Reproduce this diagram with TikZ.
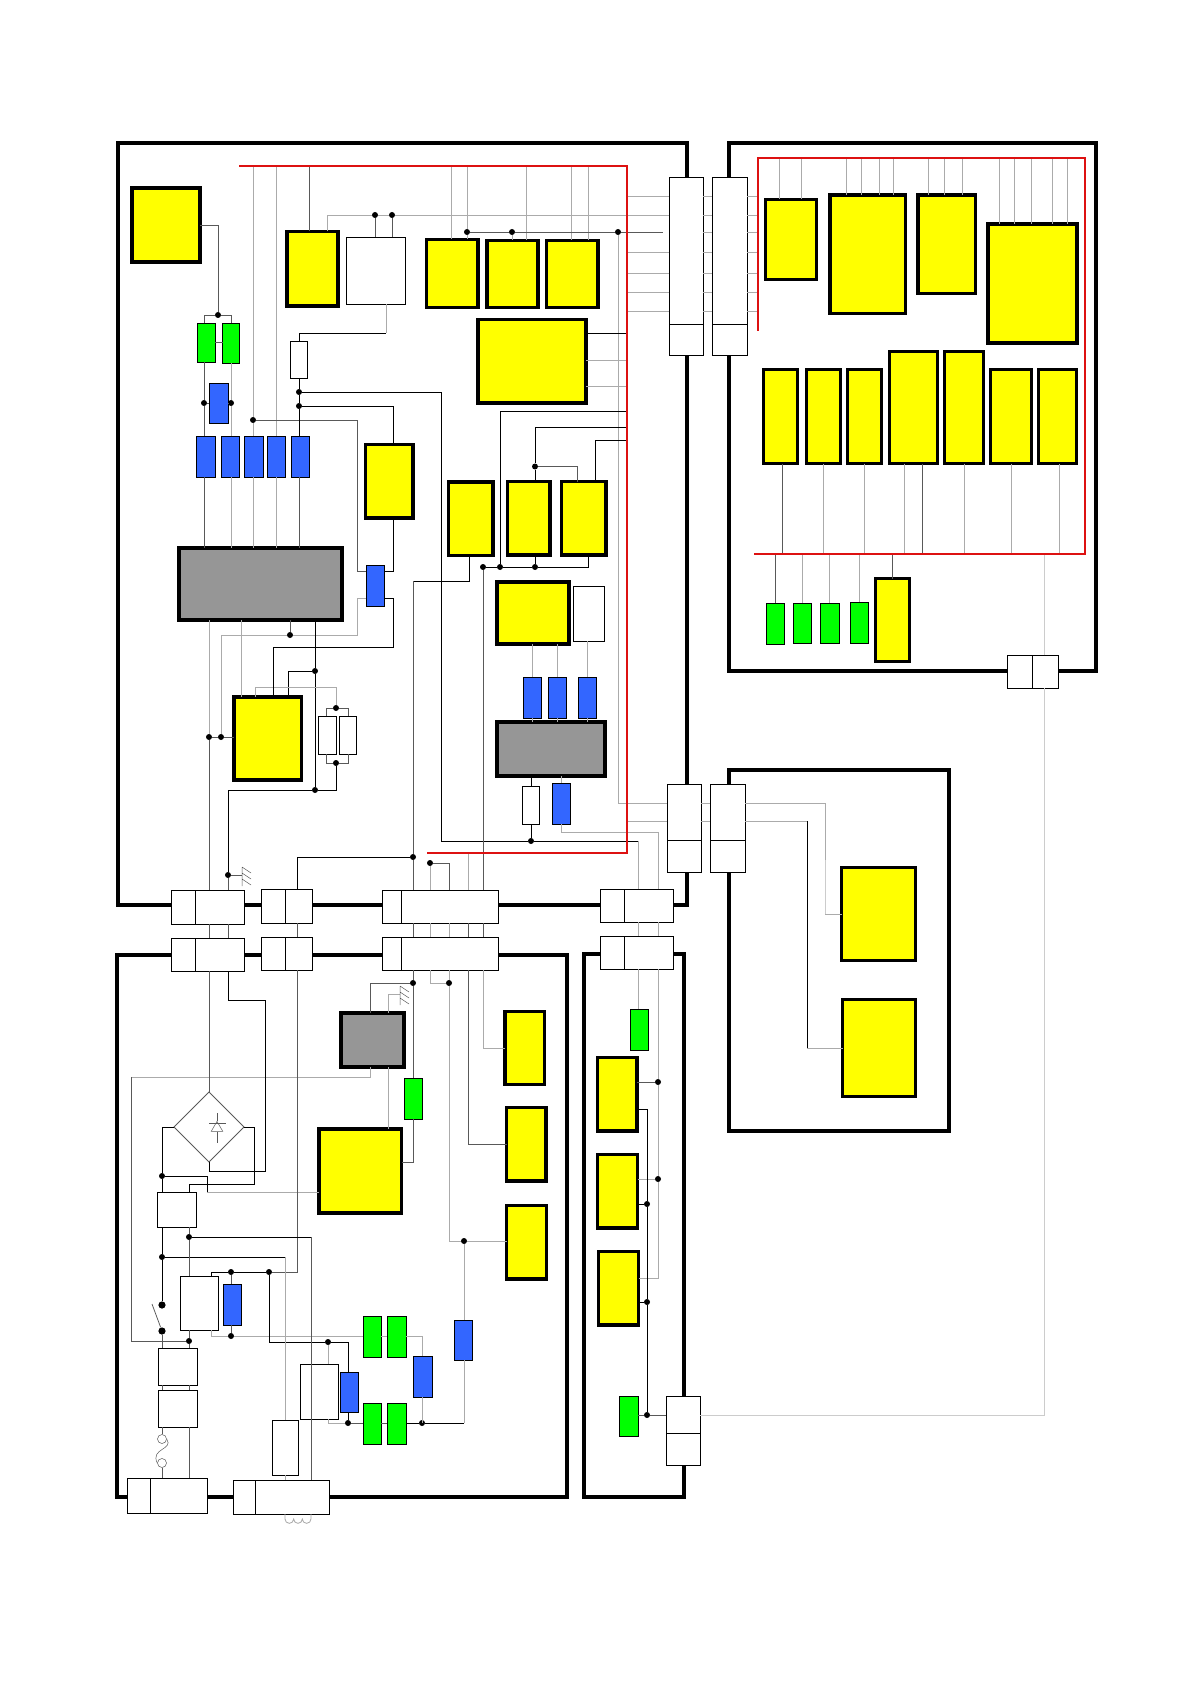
\documentclass[tikz,border=0pt]{standalone}
\usepackage{tikz}
\usetikzlibrary{calc,positioning,shapes.geometric}
\definecolor{ybox}{HTML}{FFFF00}
\definecolor{bbox}{HTML}{3366FF}
\definecolor{gbox}{HTML}{00FF00}
\definecolor{icgray}{HTML}{969696}
\definecolor{busred}{HTML}{DD1111}
\begin{document}
\begin{tikzpicture}[x=.5pt, y=-.5pt,
  bx/.style 2 args={minimum width=#1*.5pt, minimum height=#2*.5pt, inner sep=0pt, outer sep=0pt},
  frm/.style={draw, line width=2pt},
  yel/.style={draw, fill=ybox, line width=1.6pt},
  ic/.style={draw, fill=icgray, line width=1.9pt},
  blu/.style={draw, fill=bbox, line width=.42pt},
  grn/.style={draw, fill=gbox, line width=.42pt},
  wht/.style={draw, fill=white, line width=.42pt},
  dot/.style={circle, fill=black, inner sep=0pt, minimum size=3pt},
  bigdot/.style={circle, fill=black, inner sep=0pt, minimum size=3.6pt},
  bk/.style={line width=.38pt},
  dk/.style={line width=.38pt, black!65},
  gy/.style={line width=.42pt, black!33},
  lg/.style={line width=.5pt, black!20},
  bus/.style={line width=.9pt, busred},
  gnd/.pic={\draw[line width=.25pt, black!65] (0,-8) -- (0,11) (0,-8) -- (9,-2) (0,-2) -- (9,4) (0,4) -- (9,10);}]
\useasboundingbox (0,0) rectangle (1190,1684);
% frames
\node[frm, bx={569}{762}] (fmain) at (402.5,524) {};
\node[frm, bx={367}{528}] (fdisp) at (912.5,407) {};
\node[frm, bx={220}{361}] (fmot) at (839,950.5) {};
\node[frm, bx={450}{542}] (fpsu) at (342,1226) {};
\node[frm, bx={100}{543}] (fsub) at (634,1225.5) {};
% main board
\node[yel, bx={68}{74}] (y1) at (166,225) {};
\node[yel, bx={51}{74.5}] (y2) at (312.5,268.75) {};
\node[yel, bx={51.5}{68}] (y3) at (452.25,273.5) {};
\node[yel, bx={51}{67}] (y4) at (512.5,274) {};
\node[yel, bx={51.5}{67}] (y5) at (572.25,274) {};
\node[yel, bx={108}{83.5}] (y6) at (532,361.25) {};
\node[yel, bx={47.5}{73.5}] (y7) at (389.25,481.25) {};
\node[yel, bx={44.5}{73.5}] (y8) at (470.75,518.75) {};
\node[yel, bx={42.5}{73.5}] (y9) at (528.75,518.25) {};
\node[yel, bx={44.5}{73.5}] (y10) at (583.75,518.25) {};
\node[yel, bx={67.5}{83}] (y11) at (267.75,738.5) {};
\node[yel, bx={72}{62}, line width=2pt] (y12) at (533,613) {};
\node[ic, bx={163}{72}] (ic1) at (260.5,584) {};
\node[ic, bx={108}{54}] (ic2) at (551,749) {};
\node[grn, bx={18}{39}] (g1) at (206,342.5) {};
\node[grn, bx={17}{40}] (g2) at (231,343) {};
\node[blu, bx={19}{40}] (ba) at (218.5,403) {};
\node[blu, bx={19}{41}] (b1) at (205.5,456.5) {};
\node[blu, bx={18}{41}] (b2) at (230,456.5) {};
\node[blu, bx={19}{41}] (b3) at (253.5,456.5) {};
\node[blu, bx={18}{41}] (b4) at (276,456.5) {};
\node[blu, bx={18}{41}] (b5) at (300,456.5) {};
\node[blu, bx={18}{41}] (b6) at (375,585.5) {};
\node[blu, bx={18}{41}] (b7) at (532,697.5) {};
\node[blu, bx={18}{41}] (b8) at (557,697.5) {};
\node[blu, bx={18}{41}] (b9) at (587,697.5) {};
\node[blu, bx={18}{41}] (b10) at (561,803.5) {};
\node[wht, bx={59}{67}] (w1) at (375.5,270.5) {};
\node[wht, bx={31}{55}] (w2) at (588.5,613.5) {};
\node[wht, bx={17}{37}] (rs1) at (298.5,359.5) {};
\node[wht, bx={18}{38}] (rs2) at (327,735) {};
\node[wht, bx={17}{38}] (rs3) at (347.5,735) {};
\node[wht, bx={17}{38}] (rs4) at (530.5,805) {};
% display board
\node[yel, bx={51}{80}] (r1) at (791,239.5) {};
\node[yel, bx={75.5}{118.5}] (r2) at (867.75,254.25) {};
\node[yel, bx={57.5}{98.5}] (r3) at (946.75,244.25) {};
\node[yel, bx={89}{119}] (r4) at (1032.5,283.5) {};
\node[yel, bx={34}{94}] (r5) at (780.5,416.5) {};
\node[yel, bx={34}{94}] (r6) at (823.5,416.5) {};
\node[yel, bx={34}{94}] (r7) at (864.5,416.5) {};
\node[yel, bx={48}{112}] (r8) at (913.5,407.5) {};
\node[yel, bx={39}{112}] (r9) at (964,407.5) {};
\node[yel, bx={41}{94}] (r10) at (1011,416.5) {};
\node[yel, bx={38}{94}] (r11) at (1057.5,416.5) {};
\node[yel, bx={34}{83}] (r12) at (892.5,620) {};
\node[grn, bx={18}{41}] (g10) at (775,623.5) {};
\node[grn, bx={18}{40}] (g11) at (802,623) {};
\node[grn, bx={19}{40}] (g12) at (829.5,623) {};
\node[grn, bx={18}{41}] (g13) at (859,622.5) {};
% motor board
\node[yel, bx={74}{93}] (m1) at (878.5,914) {};
\node[yel, bx={73}{97}] (m2) at (879,1048) {};
% power board
\node[ic, bx={63}{54}] (ic3) at (372.5,1040) {};
\node[yel, bx={82.5}{84}] (y13) at (360.25,1171) {};
\node[yel, bx={39.5}{73}] (y14) at (524.75,1048) {};
\node[yel, bx={39.5}{73.5}] (y15) at (526.25,1144.25) {};
\node[yel, bx={40}{73.5}] (y16) at (526.5,1242.25) {};
\node[grn, bx={18}{41}] (g3) at (413,1098.5) {};
\node[grn, bx={18}{41}] (g4) at (372,1336.5) {};
\node[grn, bx={19}{41}] (g5) at (396.5,1336.5) {};
\node[grn, bx={18}{41}] (g6) at (372,1423.5) {};
\node[grn, bx={19}{41}] (g7) at (396.5,1423.5) {};
\node[blu, bx={18}{41}] (b11) at (232,1304.5) {};
\node[blu, bx={18}{40}] (b12) at (349,1392) {};
\node[blu, bx={19}{41}] (b13) at (422.5,1376.5) {};
\node[blu, bx={18}{40}] (b14) at (463,1340) {};
\node[wht, bx={39}{35}] (w3) at (176.5,1209.5) {};
\node[wht, bx={38}{54}] (w4) at (199,1303) {};
\node[wht, bx={39}{37}] (w5) at (177.5,1366.5) {};
\node[wht, bx={39}{37}] (w6) at (177.5,1408.5) {};
\node[wht, bx={38}{55}] (w7) at (319,1391.5) {};
\node[wht, bx={26}{55}] (rs5) at (285,1447.5) {};
\node[diamond, draw=black!65, line width=.38pt, bx={70}{70}] (br) at (209,1127) {};
% sub board
\node[yel, bx={39.5}{73.5}] (y17) at (617.25,1094.25) {};
\node[yel, bx={40}{73.5}] (y18) at (617.5,1191.25) {};
\node[yel, bx={40}{73.5}] (y19) at (618.5,1288.25) {};
\node[grn, bx={18}{41}] (g8) at (639,1029.5) {};
\node[grn, bx={19}{40}] (g9) at (628.5,1416) {};
% plugs
\node[wht, bx={34}{147}] (p1a) at (686,250.5) {};
\node[wht, bx={34}{31}, below=0pt of p1a] (p1b) {};
\node[wht, bx={35}{147}] (p2a) at (729.5,250.5) {};
\node[wht, bx={35}{31}, below=0pt of p2a] (p2b) {};
\node[wht, bx={34}{56}] (p3a) at (684,812) {};
\node[wht, bx={34}{32}, below=0pt of p3a] (p3b) {};
\node[wht, bx={35}{56}] (p4a) at (727.5,812) {};
\node[wht, bx={35}{32}, below=0pt of p4a] (p4b) {};
\node[wht, bx={24}{34}] (c1a) at (183,907) {};
\node[wht, bx={49}{34}, right=0pt of c1a] (c1b) {};
\node[wht, bx={24}{33}] (c1c) at (183,954.5) {};
\node[wht, bx={49}{33}, right=0pt of c1c] (c1d) {};
\node[wht, bx={24}{34}] (c2a) at (273,906) {};
\node[wht, bx={27}{34}, right=0pt of c2a] (c2b) {};
\node[wht, bx={24}{33}] (c2c) at (273,953.5) {};
\node[wht, bx={27}{33}, right=0pt of c2c] (c2d) {};
\node[wht, bx={19}{33}] (c3a) at (391.5,906.5) {};
\node[wht, bx={97}{33}, right=0pt of c3a] (c3b) {};
\node[wht, bx={19}{33}] (c3c) at (391.5,953.5) {};
\node[wht, bx={97}{33}, right=0pt of c3c] (c3d) {};
\node[wht, bx={24}{33}] (c4a) at (612,905.5) {};
\node[wht, bx={49}{33}, right=0pt of c4a] (c4b) {};
\node[wht, bx={24}{33}] (c4c) at (612,952.5) {};
\node[wht, bx={49}{33}, right=0pt of c4c] (c4d) {};
\node[wht, bx={23}{35}] (c5a) at (138.5,1495.5) {};
\node[wht, bx={57}{35}, right=0pt of c5a] (c5b) {};
\node[wht, bx={22}{34}] (c6a) at (244,1497) {};
\node[wht, bx={74}{34}, right=0pt of c6a] (c6b) {};
\node[wht, bx={34}{37}] (c7a) at (683,1414.5) {};
\node[wht, bx={34}{32}, below=0pt of c7a] (c7b) {};
\node[wht, bx={25}{33}] (c8a) at (1019.5,671.5) {};
\node[wht, bx={26}{33}, right=0pt of c8a] (c8b) {};
% buses
\coordinate (rA) at (239,166);
\coordinate (rB) at (627,166);
\coordinate (rC) at (627,853);
\coordinate (rD) at (427,853);
\coordinate (qA) at (758,331);
\coordinate (qB) at (758,158);
\coordinate (qC) at (1085,158);
\coordinate (qD) at (1085,554);
\coordinate (qE) at (754,554);
\coordinate (k1) at (638,841);
\coordinate (k2) at (658,832);
\coordinate (gr1) at (242,875);
\coordinate (gr2) at (400,994);
\coordinate (sw) at (152,1304);
% junctions
\node[dot] (d1) at (218,315) {};
\node[dot] (d2) at (204,403) {};
\node[dot] (d3) at (231,403) {};
\node[dot] (d4) at (253,420) {};
\node[dot] (d5) at (299,392) {};
\node[dot] (d6) at (299,406) {};
\node[dot] (d7) at (375,215) {};
\node[dot] (d8) at (392,215) {};
\node[dot] (d9) at (467,232) {};
\node[dot] (d10) at (512,232) {};
\node[dot] (d11) at (618,232) {};
\node[dot] (d12) at (535,466.5) {};
\node[dot] (d13) at (483,567) {};
\node[dot] (d14) at (500,567) {};
\node[dot] (d15) at (535,567) {};
\node[dot] (d16) at (290,635) {};
\node[dot] (d17) at (315,671) {};
\node[dot] (d18) at (315,790) {};
\node[dot] (d19) at (221,737) {};
\node[dot] (d20) at (209,737) {};
\node[dot] (d21) at (336,708) {};
\node[dot] (d22) at (336,763) {};
\node[dot] (d23) at (531,841) {};
\node[dot] (d24) at (413,857) {};
\node[dot] (d25) at (430,863) {};
\node[dot] (d26) at (228,875) {};
\node[dot] (d27) at (413,983) {};
\node[dot] (d28) at (449,983) {};
\node[dot] (d29) at (162,1176) {};
\node[dot] (d30) at (189,1237) {};
\node[dot] (d31) at (162,1257) {};
\node[dot] (d32) at (231,1272) {};
\node[dot] (d33) at (269,1272) {};
\node[bigdot] (d34) at (162,1305) {};
\node[bigdot] (d35) at (162,1331) {};
\node[dot] (d36) at (189,1341) {};
\node[dot] (d37) at (231,1336) {};
\node[dot] (d38) at (328,1342) {};
\node[dot] (d39) at (348,1423) {};
\node[dot] (d40) at (422,1423) {};
\node[dot] (d41) at (464,1241) {};
\node[dot] (d42) at (658,1082) {};
\node[dot] (d43) at (658,1179) {};
\node[dot] (d44) at (647,1204) {};
\node[dot] (d45) at (647,1302) {};
\node[dot] (d46) at (647,1415) {};
% main board wiring
\draw[dk] (y1.east) -| (d1);
\draw[dk] (g1.north -| d2) |- (d1) -| (g2.north -| d3);
\draw[dk] (g1.east) -- (g1.east -| g2.west);
\draw[dk] (g1.south -| d2) -- (d2) -- (b1.north -| d2);
\draw[dk] (b1.south -| d2) -- (ic1.north -| d2);
\draw[gy] (g2.south -| d3) -- (d3) -- (b2.north -| d3);
\draw[gy] (b2.south -| d3) -- (ic1.north -| d3);
\draw[dk] (d2) -- (ba) -- (d3);
\draw[gy] (rA -| d4) -- (d4) -- (b3.north -| d4);
\draw[gy] (b3.south -| d4) -- (ic1.north -| d4);
\draw[gy] (rA -| b4) -- (b4.north);
\draw[gy] (b4.south) -- (ic1.north -| b4);
\draw[dk] (d4) -| (357,571) -- (b6.west |- 357,571);
\draw[gy] (b6.west |- 0,598) -- (357,598) -- (357,635) -- (d16) -- (221,635) -- (d19);
\draw[dk] (ic1.south -| d16) -- (d16);
\draw[dk] (d20) -- (d19) -- (y11.west |- d19);
\draw[gy] (ic1.south -| d20) -- (d20);
\draw[dk] (d20) -- (c1b.north -| d20);
\draw[gy] (ic1.south -| 241,0) -- (y11.north -| 241,0);
\draw[bk] (ic1.south -| d17) -- (d17) -- (d18);
\draw[bk] (d17) -| (y11.north -| 288,0);
\draw[gy] (y11.north -| 255,0) |- (336,687) -- (d21);
\draw[dk] (rs2.north -| 326,0) |- (d21) -| (rs3.north -| 348,0);
\draw[dk] (rs2.south -| 326,0) |- (d22) -| (rs3.south -| 348,0);
\draw[bk] (d22) |- (d18) -| (d26);
\draw[dk] (d26) -- (c1b.north -| d26);
\draw[dk] (d26) -- (gr1);
\pic at (gr1) {gnd};
\draw[bk] (b6.east |- 0,571) -| (y7.south -| 393,0);
\draw[bk] (b6.east |- 0,598) -| (393,647) -| (y11.north -| 273,0);
\draw[bk] (rs1.south -| d5) -- (d5) -- (d6) -- (b5.north -| d6);
\draw[dk] (b5.south -| d6) -- (ic1.north -| d6);
\draw[bk] (d6) -| (y7.north -| 393,0);
\draw[bk] (d5) -| (441,841) -- (d23) -- (k1);
\draw[gy] (k1) -- (c4b.north -| k1);
\draw[bk] (rs1.north -| d5) |- (386,333);
\draw[gy] (386,333) -- (w1.south -| 386,0);
\draw[dk] (rA -| 309,0) -- (y2.north -| 309,0);
\draw[gy] (y2.north -| 327,0) |- (d7) -- (d8) -- (p1a.west |- d8);
\draw[dk] (d7) -- (w1.north -| d7);
\draw[dk] (d8) -- (w1.north -| d8);
\draw[gy] (rA -| 451,0) -- (y3.north -| 451,0);
\draw[gy] (rA -| d9) -- (d9) -- (y3.north -| d9);
\draw[gy] (rA -| 526,0) -- (y4.north -| 526,0);
\draw[gy] (rA -| 571,0) -- (y5.north -| 571,0);
\draw[gy] (rA -| 588,0) -- (y5.north -| 588,0);
\draw[dk] (d9) -- (d10) -- (d11) -- (663,232);
\draw[gy] (d10) -- (y4.north -| d10);
\draw[gy] (d11) |- (p3a.west |- 0,803);
\draw[gy] (p3a.east |- 0,803) -- (p4a.west |- 0,803);
\draw[gy] (rC |- 0,821) -- (p3a.west |- 0,821);
\draw[gy] (p3a.east |- 0,821) -- (p4a.west |- 0,821);
\draw[gy] (rC |- 0,196) -- (p1a.west |- 0,196);
\draw[gy] (rC |- 0,252) -- (p1a.west |- 0,252);
\draw[gy] (rC |- 0,273) -- (p1a.west |- 0,273);
\draw[gy] (rC |- 0,292) -- (p1a.west |- 0,292);
\draw[gy] (rC |- 0,311) -- (p1a.west |- 0,311);
\draw[gy] (p1a.east |- 0,196) -- (p2a.west |- 0,196) (p2a.east |- 0,196) -- (qA |- 0,196);
\draw[gy] (p1a.east |- 0,215) -- (p2a.west |- 0,215) (p2a.east |- 0,215) -- (qA |- 0,215);
\draw[gy] (p1a.east |- 0,232) -- (p2a.west |- 0,232) (p2a.east |- 0,232) -- (qA |- 0,232);
\draw[gy] (p1a.east |- 0,252) -- (p2a.west |- 0,252) (p2a.east |- 0,252) -- (qA |- 0,252);
\draw[gy] (p1a.east |- 0,273) -- (p2a.west |- 0,273) (p2a.east |- 0,273) -- (qA |- 0,273);
\draw[gy] (p1a.east |- 0,292) -- (p2a.west |- 0,292) (p2a.east |- 0,292) -- (qA |- 0,292);
\draw[gy] (p1a.east |- 0,311) -- (p2a.west |- 0,311) (p2a.east |- 0,311) -- (qA |- 0,311);
\draw[bk] (y6.east |- 0,333) -- (rC |- 0,333);
\draw[gy] (y6.east |- 0,360) -- (rC |- 0,360);
\draw[gy] (y6.east |- 0,386) -- (rC |- 0,386);
\draw[bk] (rC |- 0,411) -| (d14);
\draw[bk] (rC |- 0,427) -| (d12);
\draw[bk] (d12) -- (y9.north -| d12);
\draw[dk] (d12) -| (y10.north -| 577,0);
\draw[bk] (rC |- 0,440) -| (y10.north -| 595,0);
\draw[bk] (y8.south -| 469,0) |- (413,581);
\draw[dk] (413,581) -- (d24) -- (c3b.north -| d24);
\draw[bk] (d24) -| (c2b.north -| 297,0);
\draw[dk] (c3b.north -| d13) -- (d13);
\draw[bk] (d13) -- (d14) -- (d15) -| (y10.south -| 588,0);
\draw[bk] (d15) -- (y9.south -| d15);
\draw[gy] (y12.south -| b7) -- (b7.north);
\draw[gy] (y12.south -| b8) -- (b8.north);
\draw[gy] (w2.south -| b9) -- (b9.north);
\draw[gy] (b7.south) -- (ic2.north -| b7);
\draw[gy] (b8.south) -- (ic2.north -| b8);
\draw[gy] (b9.south) -- (ic2.north -| b9);
\draw[bk] (ic2.south -| d23) -- (rs4.north -| d23);
\draw[bk] (rs4.south -| d23) -- (d23);
\draw[gy] (ic2.south -| b10) -- (b10.north);
\draw[gy] (b10.south) |- (k2) -- (c4b.north -| k2);
\draw[gy] (c3b.north -| d25) -- (d25);
\draw[dk] (d25) -| (c3b.north -| 449,0);
\draw[gy] (rD -| 468,0) -- (c3b.north -| 468,0);
% between the plugs
\draw[dk] (c1b.south -| d20) -- (c1d.north -| d20);
\draw[dk] (c1b.south -| d26) -- (c1d.north -| d26);
\draw[dk] (c2b.south -| 297,0) -- (c2d.north -| 297,0);
\draw[dk] (c3b.south -| d24) -- (c3d.north -| d24);
\draw[gy] (c3b.south -| d25) -- (c3d.north -| d25);
\draw[gy] (c3b.south -| 449,0) -- (c3d.north -| 449,0);
\draw[dk] (c3b.south -| 468,0) -- (c3d.north -| 468,0);
\draw[dk] (c3b.south -| d13) -- (c3d.north -| d13);
\draw[gy] (c4b.south -| k1) -- (c4d.north -| k1);
\draw[gy] (c4b.south -| k2) -- (c4d.north -| k2);
% motor board wiring
\draw[gy] (p4a.east |- 0,803) -| (825,860);
\draw[lg] (825,860) -- (825,914);
\draw[gy] (825,914) -- (m1.west);
\draw[gy] (p4a.east |- 0,821) -- (807,821);
\draw[bk] (807,821) -- (807,1048);
\draw[gy] (807,1048) -- (m2.west);
% power board wiring
\draw[dk] (c3d.south -| d27) -- (d27) -- (g3.north -| d27);
\draw[dk] (d27) -| (ic3.north -| 370,0);
\draw[gy] (ic3.north -| 388,0) |- (gr2);
\pic at (gr2) {gnd};
\draw[gy] (y13.north -| 388,0) -- (ic3.south -| 388,0);
\draw[gy] (ic3.south -| 370,0) |- (131,1077);
\draw[dk] (131,1077) |- (d36);
\draw[dk] (g3.south -| d27) |- (y13.east |- 0,1162);
\draw[gy] (c3d.south -| d25) |- (d28);
\draw[gy] (c3d.south -| d28) -- (d28) |- (d41) -- (y16.west |- d41);
\draw[gy] (d41) -- (b14.north -| d41);
\draw[gy] (b14.south -| d41) -- (d41 |- d40);
\draw[bk] (d41 |- d40) -- (d40);
\draw[dk] (c3d.south -| 468,0) |- (y15.west);
\draw[gy] (c3d.south -| d13) |- (y14.west);
\draw[gy] (y13.west |- 0,1192) -- (207,1192);
\draw[bk] (207,1192) |- (d29);
\draw[dk] (c1d.south -| br) -- (br.north);
\draw[bk] (br.west) -| (d29) -- (w3.north -| d29);
\draw[bk] (br.east) -| (254,1184) -| (w3.north -| d30);
\draw[bk] (br.south) |- (265,1171) |- (228,1000) -- (c1d.south -| 228,0);
\draw[dk] (c2d.south -| 297,0) |- (d33);
\draw[bk] (d33) -- (d32) -| (w4.north -| 211,0);
\draw[dk] (d32) -- (b11.north -| d32);
\draw[dk] (b11.south -| d32) -- (d37);
\draw[gy] (w4.south -| 211,0) |- (d37) -- (g4.west |- d37);
\draw[gy] (g4.east |- d37) -- (g5.west |- d37);
\draw[gy] (g5.east |- d37) -| (b13.north);
\draw[gy] (b13.south) -- (b13.south |- d40);
\draw[bk] (d33) |- (d38) -| (b12.north -| d39);
\draw[gy] (d38) -- (w7.north -| d38);
\draw[gy] (w7.south -| d38) |- (d39);
\draw[dk] (d39) -- (g6.west |- d39);
\draw[bk] (b12.south -| d39) -- (d39);
\draw[dk] (g6.east |- d39) -- (g7.west |- d39);
\draw[bk] (g7.east |- d40) -- (d40);
\draw[bk] (w3.south -| d31) -- (d31) -- (d34);
\draw[bk] (d31) -- (rs5.north |- d31);
\draw[gy] (rs5.north |- d31) -- (rs5.north);
\draw[gy] (rs5.south) -- (c6b.north -| rs5.south);
\draw[dk] (w3.south -| d30) -- (d30) -- (w4.north -| d30);
\draw[bk] (d30) -- (d30 -| 311,0);
\draw[dk] (d30 -| 311,0) -- (c6b.north -| 311,0);
\draw[dk] (w4.south -| d36) -- (d36) -- (w5.north -| d36);
\draw[dk] (d35) -- (w5.north -| d35);
\draw[dk] (sw) -- (d35);
\draw[dk] (d36 |- w5.south) -- (d36 |- w6.north);
\draw[dk] (d35 |- w5.south) -- (d35 |- w6.north);
\draw[dk] (w6.south -| d36) -- (c5b.north -| d36);
\node[circle, draw=black!65, line width=.25pt, inner sep=0pt, minimum size=4.5pt] (f1) at (162,1439) {};
\node[circle, draw=black!65, line width=.25pt, inner sep=0pt, minimum size=4.5pt] (f2) at (162,1463) {};
\draw[dk] (w6.south -| f1) -- (f1.north);
\draw[black!65, line width=.25pt] (f1.east) .. controls (174,1450) and (150,1448) .. (f2.west);
\draw[dk] (f2.south) -- (c5b.north -| f2);
\draw[gy] (c6b.south -| 285,0) -- (285,1519) arc[start angle=180, end angle=0, radius=4.33] arc[start angle=180, end angle=0, radius=4.33] arc[start angle=180, end angle=0, radius=4.33] -- (c6b.south -| 311,0);
\node[draw, isosceles triangle, isosceles triangle apex angle=60, shape border rotate=90, line width=.25pt, black!65, inner sep=0pt, minimum height=5pt] (dio) at (217,1128) {};
\draw[black!65, line width=.25pt] (dio.north -| 217,0) -- (217,1113) (dio.south -| 217,0) -- (217,1143) (209,1123) -- (226,1123);
% sub board wiring
\draw[gy] (c4d.south -| k1) -- (g8.north -| k1);
\draw[gy] (c4d.south -| d42) -- (d42) -- (d43) |- (y19.east |- 0,1278);
\draw[dk] (y17.east |- d42) -- (d42);
\draw[gy] (y18.east |- d43) -- (d43);
\draw[bk] (y17.east |- 0,1109) -| (d44);
\draw[bk] (d44) -- (d45) -- (d46);
\draw[bk] (y18.east |- d44) -- (d44);
\draw[bk] (y19.east |- d45) -- (d45);
\draw[dk] (g9.east |- d46) -- (d46) -- (c7a.west |- d46);
\draw[lg] (c7a.east |- d46) -| (c8b.south -| 1044,0);
\draw[lg] (c8b.north -| 1044,0) -- (qE -| 1044,0);
% display board wiring
\draw[gy] (qB -| 779,0) -- (r1.north -| 779,0);
\draw[gy] (qB -| 801,0) -- (r1.north -| 801,0);
\draw[gy] (qB -| 846,0) -- (r2.north -| 846,0);
\draw[gy] (qB -| 861,0) -- (r2.north -| 861,0);
\draw[gy] (qB -| 879,0) -- (r2.north -| 879,0);
\draw[gy] (qB -| 893,0) -- (r2.north -| 893,0);
\draw[gy] (qB -| 928,0) -- (r3.north -| 928,0);
\draw[gy] (qB -| 944,0) -- (r3.north -| 944,0);
\draw[gy] (qB -| 962,0) -- (r3.north -| 962,0);
\draw[gy] (qB -| 999,0) -- (r4.north -| 999,0);
\draw[gy] (qB -| 1014,0) -- (r4.north -| 1014,0);
\draw[gy] (qB -| 1031,0) -- (r4.north -| 1031,0);
\draw[gy] (qB -| 1052,0) -- (r4.north -| 1052,0);
\draw[gy] (qB -| 1067,0) -- (r4.north -| 1067,0);
\draw[dk] (r5.south -| 782,0) -- (qE -| 782,0);
\draw[gy] (r6.south) -- (qE -| r6);
\draw[gy] (r7.south) -- (qE -| r7);
\draw[gy] (r8.south -| 904,0) -- (qE -| 904,0);
\draw[dk] (r8.south -| 922,0) -- (qE -| 922,0);
\draw[gy] (r9.south) -- (qE -| r9);
\draw[gy] (r10.south) -- (qE -| r10);
\draw[gy] (r11.south -| 1059,0) -- (qE -| 1059,0);
\draw[dk] (qE -| g10) -- (g10.north);
\draw[gy] (qE -| g11) -- (g11.north);
\draw[gy] (qE -| g12) -- (g12.north);
\draw[gy] (qE -| g13) -- (g13.north);
\draw[dk] (qE -| r12) -- (r12.north);
% red lines
\draw[bus] (rA) -- (rB) -- (rC) -- (rD);
\draw[bus] (qA) -- (qB) -- (qC) -- (qD) -- (qE);
\end{tikzpicture}
\end{document}
